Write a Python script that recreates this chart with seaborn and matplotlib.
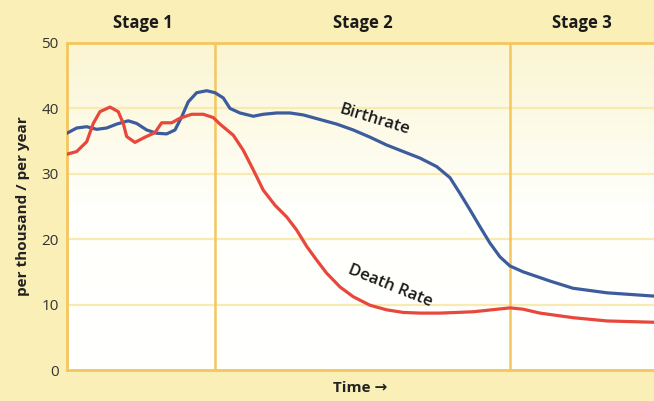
# Libraries
# ==============================================================================
import numpy as np
import pandas as pd
import seaborn as sns
import matplotlib.pyplot as plt

# Data (time on a 0-100 scale)
# ==============================================================================
birth_time = [0, 1.65, 3.36, 5.06, 6.76, 8.47, 10.44, 11.87, 13.58, 15.28, 16.98,
              18.4, 19.54, 20.66, 22.1, 23.8, 25.21, 26.63, 27.77, 29.47, 31.74,
              33.44, 35.72, 37.99, 40.26, 43.1, 45.95, 48.77, 51.62, 54.46, 57.29,
              60.14, 62.98, 65.25, 66.95, 68.65, 70.36, 72.06, 73.76, 75.47, 77.73,
              80.02, 82.28, 86.2, 92.0, 100]
birth_rate = [36.2, 37.0, 37.2, 36.8, 37.0, 37.6, 38.1, 37.7, 36.7, 36.2, 36.1,
              36.7, 38.7, 41.0, 42.4, 42.7, 42.4, 41.6, 40.0, 39.3, 38.8,
              39.1, 39.3, 39.3, 39.0, 38.3, 37.6, 36.7, 35.6, 34.4, 33.4,
              32.4, 31.1, 29.4, 27.0, 24.5, 21.9, 19.4, 17.3, 15.9, 15.0,
              14.3, 13.6, 12.5, 11.8, 11.3]

death_time = [0, 1.65, 3.36, 4.48, 5.62, 7.33, 8.74, 9.59, 10.17, 11.58, 13.29,
              14.99, 16.13, 17.84, 19.25, 21.24, 23.22, 24.92, 26.06, 28.33, 30.03,
              31.74, 33.44, 35.43, 37.43, 39.13, 40.84, 42.54, 44.24, 46.51, 48.77,
              51.62, 54.46, 57.29, 60.14, 63.54, 69.17, 75.47, 77.68, 80.58, 86.2,
              92.0, 100]
death_rate = [33.0, 33.4, 34.9, 37.7, 39.5, 40.2, 39.5, 37.7, 35.7, 34.8, 35.6,
              36.3, 37.8, 37.8, 38.5, 39.1, 39.1, 38.6, 37.6, 35.9, 33.6,
              30.6, 27.5, 25.2, 23.4, 21.4, 18.9, 16.8, 14.8, 12.7, 11.2,
              9.9, 9.2, 8.8, 8.7, 8.7, 8.9, 9.5, 9.3, 8.7, 8.0,
              7.5, 7.3]

stage_names = ['Stage 1', 'Stage 2', 'Stage 3']
stage_edges = [0, 25.2, 75.5, 100]

birth = pd.DataFrame({'time': birth_time, 'rate': birth_rate})
death = pd.DataFrame({'time': death_time, 'rate': death_rate})

# Graph
# ==============================================================================
sns.set_theme(style="white")
plt.rcParams['font.family'] = ['Open Sans', 'DejaVu Sans']

cream = '#FBEFB8'
gold = '#F3C65E'

fig = plt.figure(figsize=(6.54, 4.01), dpi=100, facecolor=cream)
ax = fig.add_axes([0.1024, 0.0773, 0.8976, 0.8155])

# Soft gradient in the plot area
grad = np.linspace(0, 1, 256).reshape(-1, 1)
cmap = sns.blend_palette(['#FFFFFF', '#FFFFFB', '#FBF5D2'], as_cmap=True)
ax.imshow(grad, extent=[0, 100, 0, 50], origin='lower', aspect='auto', cmap=cmap, zorder=0)

# Horizontal grid lines and stage dividers
for yv in [10, 20, 30, 40]:
    ax.axhline(yv, color='#F8EBB2', lw=1.6, zorder=1)
for xv in stage_edges[1:-1]:
    ax.axvline(xv, color=gold, lw=1.8, zorder=2)

# Lines
sns.lineplot(data=birth, x='time', y='rate', color='#3D5C9E', lw=2.3, ax=ax, zorder=3)
sns.lineplot(data=death, x='time', y='rate', color='#E8473C', lw=2.3, ax=ax, zorder=3)

ax.set_xlim(0, 100)
ax.set_ylim(0, 50)
ax.set_yticks([0, 10, 20, 30, 40, 50])
ax.set_xticks([])
ax.tick_params(axis='y', length=0, pad=6, labelsize=11, labelcolor='#333333')
ax.set_xlabel('Time \u2192', fontsize=11, fontweight='bold', color='#222222', labelpad=8)
ax.set_ylabel('per thousand / per year', fontsize=11, fontweight='bold', color='#222222', labelpad=8)

for side in ['left', 'bottom', 'top']:
    ax.spines[side].set_color(gold)
    ax.spines[side].set_linewidth(2)
ax.spines['right'].set_visible(False)

# Stage labels above the plot
for name, a, b in zip(stage_names, stage_edges[:-1], stage_edges[1:]):
    ax.text((a + b) / 2 if name != 'Stage 1' else 12.9, 53.0, name, ha='center', va='center',
            fontsize=12, fontweight='bold', color='#1A1A1A', clip_on=False)

# Line labels
ax.text(52.3, 38.2, 'Birthrate', rotation=-17, ha='center', va='center',
        fontsize=12, fontweight='semibold', color='#1A1A1A')
ax.text(55.0, 12.9, 'Death Rate', rotation=-22, ha='center', va='center',
        fontsize=12, fontweight='semibold', color='#1A1A1A')

fig.savefig('out.png', dpi=100, facecolor=cream)
